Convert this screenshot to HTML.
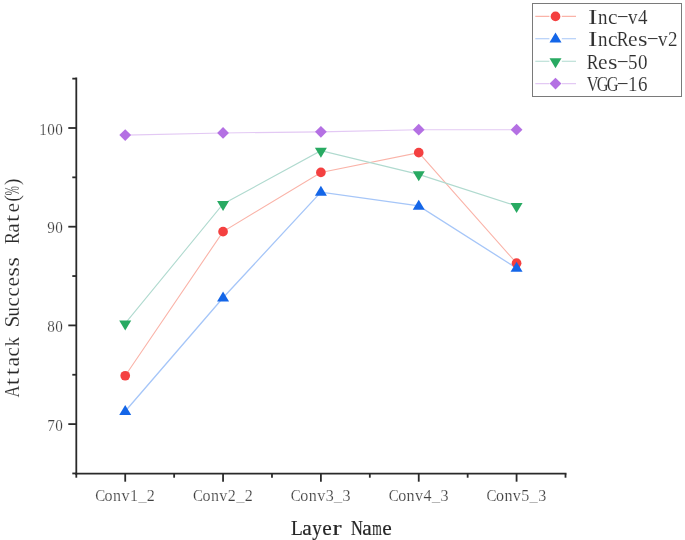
<!DOCTYPE html>
<html><head><meta charset="utf-8"><title>Attack Success Rate by Layer</title>
<style>
html,body{margin:0;padding:0;background:#fff;}
body{width:685px;height:540px;overflow:hidden;font-family:"Liberation Serif",serif;}
svg{display:block;will-change:transform;}
text{-webkit-font-smoothing:antialiased;}
</style></head><body>
<svg width="685" height="540" viewBox="0 0 685 540" font-family="'Liberation Serif', serif">
<rect width="685" height="540" fill="#fff"/>
<g stroke="#2a2a2a" stroke-width="1.8" fill="none" stroke-linecap="butt">
<path d="M76.30 77.50 V474.70"/>
<path d="M75.30 473.70 H566.50"/>
<path d="M68.30 424.10 H76.30"/>
<path d="M68.30 325.40 H76.30"/>
<path d="M68.30 226.70 H76.30"/>
<path d="M68.30 128.00 H76.30"/>
<path d="M72.30 473.45 H76.30"/>
<path d="M72.30 374.75 H76.30"/>
<path d="M72.30 276.05 H76.30"/>
<path d="M72.30 177.35 H76.30"/>
<path d="M72.30 78.65 H76.30"/>
<path d="M125.22 473.70 V481.70"/>
<path d="M223.06 473.70 V481.70"/>
<path d="M320.90 473.70 V481.70"/>
<path d="M418.74 473.70 V481.70"/>
<path d="M516.58 473.70 V481.70"/>
<path d="M76.30 473.70 V477.70"/>
<path d="M174.14 473.70 V477.70"/>
<path d="M271.98 473.70 V477.70"/>
<path d="M369.82 473.70 V477.70"/>
<path d="M467.66 473.70 V477.70"/>
<path d="M565.50 473.70 V477.70"/>
</g>
<text x="51.10" y="430.70" font-size="16.5" text-anchor="middle" fill="#404040" stroke="#fff" stroke-width="0.18" textLength="7.60" lengthAdjust="spacingAndGlyphs">7</text>
<text x="59.10" y="430.70" font-size="16.5" text-anchor="middle" fill="#404040" stroke="#fff" stroke-width="0.18" textLength="7.60" lengthAdjust="spacingAndGlyphs">0</text>
<text x="51.10" y="332.00" font-size="16.5" text-anchor="middle" fill="#404040" stroke="#fff" stroke-width="0.18" textLength="7.60" lengthAdjust="spacingAndGlyphs">8</text>
<text x="59.10" y="332.00" font-size="16.5" text-anchor="middle" fill="#404040" stroke="#fff" stroke-width="0.18" textLength="7.60" lengthAdjust="spacingAndGlyphs">0</text>
<text x="51.10" y="233.30" font-size="16.5" text-anchor="middle" fill="#404040" stroke="#fff" stroke-width="0.18" textLength="7.60" lengthAdjust="spacingAndGlyphs">9</text>
<text x="59.10" y="233.30" font-size="16.5" text-anchor="middle" fill="#404040" stroke="#fff" stroke-width="0.18" textLength="7.60" lengthAdjust="spacingAndGlyphs">0</text>
<text x="43.10" y="134.60" font-size="16.5" text-anchor="middle" fill="#404040" stroke="#fff" stroke-width="0.18" textLength="7.60" lengthAdjust="spacingAndGlyphs">1</text>
<text x="51.10" y="134.60" font-size="16.5" text-anchor="middle" fill="#404040" stroke="#fff" stroke-width="0.18" textLength="7.60" lengthAdjust="spacingAndGlyphs">0</text>
<text x="59.10" y="134.60" font-size="16.5" text-anchor="middle" fill="#404040" stroke="#fff" stroke-width="0.18" textLength="7.60" lengthAdjust="spacingAndGlyphs">0</text>
<text x="100.17" y="500.60" font-size="17" text-anchor="middle" fill="#404040" stroke="#fff" stroke-width="0.18" textLength="9.97" lengthAdjust="spacingAndGlyphs">C</text>
<text x="108.62" y="500.60" font-size="17" text-anchor="middle" fill="#404040" stroke="#fff" stroke-width="0.18" textLength="8.03" lengthAdjust="spacingAndGlyphs">o</text>
<text x="117.07" y="500.60" font-size="17" text-anchor="middle" fill="#404040" stroke="#fff" stroke-width="0.18" textLength="8.03" lengthAdjust="spacingAndGlyphs">n</text>
<text x="125.52" y="500.60" font-size="17" text-anchor="middle" fill="#404040" stroke="#fff" stroke-width="0.18" textLength="8.03" lengthAdjust="spacingAndGlyphs">v</text>
<text x="133.97" y="500.60" font-size="17" text-anchor="middle" fill="#404040" stroke="#fff" stroke-width="0.18" textLength="8.03" lengthAdjust="spacingAndGlyphs">1</text>
<text x="142.42" y="500.60" font-size="17" text-anchor="middle" fill="#404040" stroke="#fff" stroke-width="0.18" textLength="8.03" lengthAdjust="spacingAndGlyphs">_</text>
<text x="150.87" y="500.60" font-size="17" text-anchor="middle" fill="#404040" stroke="#fff" stroke-width="0.18" textLength="8.03" lengthAdjust="spacingAndGlyphs">2</text>
<text x="198.01" y="500.60" font-size="17" text-anchor="middle" fill="#404040" stroke="#fff" stroke-width="0.18" textLength="9.97" lengthAdjust="spacingAndGlyphs">C</text>
<text x="206.46" y="500.60" font-size="17" text-anchor="middle" fill="#404040" stroke="#fff" stroke-width="0.18" textLength="8.03" lengthAdjust="spacingAndGlyphs">o</text>
<text x="214.91" y="500.60" font-size="17" text-anchor="middle" fill="#404040" stroke="#fff" stroke-width="0.18" textLength="8.03" lengthAdjust="spacingAndGlyphs">n</text>
<text x="223.36" y="500.60" font-size="17" text-anchor="middle" fill="#404040" stroke="#fff" stroke-width="0.18" textLength="8.03" lengthAdjust="spacingAndGlyphs">v</text>
<text x="231.81" y="500.60" font-size="17" text-anchor="middle" fill="#404040" stroke="#fff" stroke-width="0.18" textLength="8.03" lengthAdjust="spacingAndGlyphs">2</text>
<text x="240.26" y="500.60" font-size="17" text-anchor="middle" fill="#404040" stroke="#fff" stroke-width="0.18" textLength="8.03" lengthAdjust="spacingAndGlyphs">_</text>
<text x="248.71" y="500.60" font-size="17" text-anchor="middle" fill="#404040" stroke="#fff" stroke-width="0.18" textLength="8.03" lengthAdjust="spacingAndGlyphs">2</text>
<text x="295.85" y="500.60" font-size="17" text-anchor="middle" fill="#404040" stroke="#fff" stroke-width="0.18" textLength="9.97" lengthAdjust="spacingAndGlyphs">C</text>
<text x="304.30" y="500.60" font-size="17" text-anchor="middle" fill="#404040" stroke="#fff" stroke-width="0.18" textLength="8.03" lengthAdjust="spacingAndGlyphs">o</text>
<text x="312.75" y="500.60" font-size="17" text-anchor="middle" fill="#404040" stroke="#fff" stroke-width="0.18" textLength="8.03" lengthAdjust="spacingAndGlyphs">n</text>
<text x="321.20" y="500.60" font-size="17" text-anchor="middle" fill="#404040" stroke="#fff" stroke-width="0.18" textLength="8.03" lengthAdjust="spacingAndGlyphs">v</text>
<text x="329.65" y="500.60" font-size="17" text-anchor="middle" fill="#404040" stroke="#fff" stroke-width="0.18" textLength="8.03" lengthAdjust="spacingAndGlyphs">3</text>
<text x="338.10" y="500.60" font-size="17" text-anchor="middle" fill="#404040" stroke="#fff" stroke-width="0.18" textLength="8.03" lengthAdjust="spacingAndGlyphs">_</text>
<text x="346.55" y="500.60" font-size="17" text-anchor="middle" fill="#404040" stroke="#fff" stroke-width="0.18" textLength="8.03" lengthAdjust="spacingAndGlyphs">3</text>
<text x="393.69" y="500.60" font-size="17" text-anchor="middle" fill="#404040" stroke="#fff" stroke-width="0.18" textLength="9.97" lengthAdjust="spacingAndGlyphs">C</text>
<text x="402.14" y="500.60" font-size="17" text-anchor="middle" fill="#404040" stroke="#fff" stroke-width="0.18" textLength="8.03" lengthAdjust="spacingAndGlyphs">o</text>
<text x="410.59" y="500.60" font-size="17" text-anchor="middle" fill="#404040" stroke="#fff" stroke-width="0.18" textLength="8.03" lengthAdjust="spacingAndGlyphs">n</text>
<text x="419.04" y="500.60" font-size="17" text-anchor="middle" fill="#404040" stroke="#fff" stroke-width="0.18" textLength="8.03" lengthAdjust="spacingAndGlyphs">v</text>
<text x="427.49" y="500.60" font-size="17" text-anchor="middle" fill="#404040" stroke="#fff" stroke-width="0.18" textLength="8.03" lengthAdjust="spacingAndGlyphs">4</text>
<text x="435.94" y="500.60" font-size="17" text-anchor="middle" fill="#404040" stroke="#fff" stroke-width="0.18" textLength="8.03" lengthAdjust="spacingAndGlyphs">_</text>
<text x="444.39" y="500.60" font-size="17" text-anchor="middle" fill="#404040" stroke="#fff" stroke-width="0.18" textLength="8.03" lengthAdjust="spacingAndGlyphs">3</text>
<text x="491.53" y="500.60" font-size="17" text-anchor="middle" fill="#404040" stroke="#fff" stroke-width="0.18" textLength="9.97" lengthAdjust="spacingAndGlyphs">C</text>
<text x="499.98" y="500.60" font-size="17" text-anchor="middle" fill="#404040" stroke="#fff" stroke-width="0.18" textLength="8.03" lengthAdjust="spacingAndGlyphs">o</text>
<text x="508.43" y="500.60" font-size="17" text-anchor="middle" fill="#404040" stroke="#fff" stroke-width="0.18" textLength="8.03" lengthAdjust="spacingAndGlyphs">n</text>
<text x="516.88" y="500.60" font-size="17" text-anchor="middle" fill="#404040" stroke="#fff" stroke-width="0.18" textLength="8.03" lengthAdjust="spacingAndGlyphs">v</text>
<text x="525.33" y="500.60" font-size="17" text-anchor="middle" fill="#404040" stroke="#fff" stroke-width="0.18" textLength="8.03" lengthAdjust="spacingAndGlyphs">5</text>
<text x="533.78" y="500.60" font-size="17" text-anchor="middle" fill="#404040" stroke="#fff" stroke-width="0.18" textLength="8.03" lengthAdjust="spacingAndGlyphs">_</text>
<text x="542.23" y="500.60" font-size="17" text-anchor="middle" fill="#404040" stroke="#fff" stroke-width="0.18" textLength="8.03" lengthAdjust="spacingAndGlyphs">3</text>
<text x="297.00" y="534.80" font-size="21" text-anchor="middle" fill="#262626" stroke="#262626" stroke-width="0.2" textLength="11.80" lengthAdjust="spacingAndGlyphs">L</text>
<text x="307.00" y="534.80" font-size="21" text-anchor="middle" fill="#262626" stroke="#262626" stroke-width="0.2" textLength="9.50" lengthAdjust="spacingAndGlyphs">a</text>
<text x="317.00" y="534.80" font-size="21" text-anchor="middle" fill="#262626" stroke="#262626" stroke-width="0.2" textLength="9.50" lengthAdjust="spacingAndGlyphs">y</text>
<text x="327.00" y="534.80" font-size="21" text-anchor="middle" fill="#262626" stroke="#262626" stroke-width="0.2" textLength="9.50" lengthAdjust="spacingAndGlyphs">e</text>
<text x="337.00" y="534.80" font-size="21" text-anchor="middle" fill="#262626" stroke="#262626" stroke-width="0.2" textLength="9.09" lengthAdjust="spacingAndGlyphs">r</text>
<text x="357.00" y="534.80" font-size="21" text-anchor="middle" fill="#262626" stroke="#262626" stroke-width="0.2" textLength="11.80" lengthAdjust="spacingAndGlyphs">N</text>
<text x="367.00" y="534.80" font-size="21" text-anchor="middle" fill="#262626" stroke="#262626" stroke-width="0.2" textLength="9.50" lengthAdjust="spacingAndGlyphs">a</text>
<text x="377.00" y="534.80" font-size="21" text-anchor="middle" fill="#262626" stroke="#262626" stroke-width="0.2" textLength="9.50" lengthAdjust="spacingAndGlyphs">m</text>
<text x="387.00" y="534.80" font-size="21" text-anchor="middle" fill="#262626" stroke="#262626" stroke-width="0.2" textLength="9.50" lengthAdjust="spacingAndGlyphs">e</text>
<g transform="translate(19.3 396.7) rotate(-90)">
<text x="5.00" y="0.00" font-size="21" text-anchor="middle" fill="#2a2a2a" stroke="#fff" stroke-width="0.15" textLength="11.80" lengthAdjust="spacingAndGlyphs">A</text>
<text x="15.00" y="0.00" font-size="21" text-anchor="middle" fill="#2a2a2a" stroke="#fff" stroke-width="0.15" textLength="7.58" lengthAdjust="spacingAndGlyphs">t</text>
<text x="25.00" y="0.00" font-size="21" text-anchor="middle" fill="#2a2a2a" stroke="#fff" stroke-width="0.15" textLength="7.58" lengthAdjust="spacingAndGlyphs">t</text>
<text x="35.00" y="0.00" font-size="21" text-anchor="middle" fill="#2a2a2a" stroke="#fff" stroke-width="0.15" textLength="9.50" lengthAdjust="spacingAndGlyphs">a</text>
<text x="45.00" y="0.00" font-size="21" text-anchor="middle" fill="#2a2a2a" stroke="#fff" stroke-width="0.15" textLength="9.50" lengthAdjust="spacingAndGlyphs">c</text>
<text x="55.00" y="0.00" font-size="21" text-anchor="middle" fill="#2a2a2a" stroke="#fff" stroke-width="0.15" textLength="9.50" lengthAdjust="spacingAndGlyphs">k</text>
<text x="75.00" y="0.00" font-size="21" text-anchor="middle" fill="#2a2a2a" stroke="#fff" stroke-width="0.15" textLength="11.80" lengthAdjust="spacingAndGlyphs">S</text>
<text x="85.00" y="0.00" font-size="21" text-anchor="middle" fill="#2a2a2a" stroke="#fff" stroke-width="0.15" textLength="9.50" lengthAdjust="spacingAndGlyphs">u</text>
<text x="95.00" y="0.00" font-size="21" text-anchor="middle" fill="#2a2a2a" stroke="#fff" stroke-width="0.15" textLength="9.50" lengthAdjust="spacingAndGlyphs">c</text>
<text x="105.00" y="0.00" font-size="21" text-anchor="middle" fill="#2a2a2a" stroke="#fff" stroke-width="0.15" textLength="9.50" lengthAdjust="spacingAndGlyphs">c</text>
<text x="115.00" y="0.00" font-size="21" text-anchor="middle" fill="#2a2a2a" stroke="#fff" stroke-width="0.15" textLength="9.50" lengthAdjust="spacingAndGlyphs">e</text>
<text x="125.00" y="0.00" font-size="21" text-anchor="middle" fill="#2a2a2a" stroke="#fff" stroke-width="0.15" textLength="9.50" lengthAdjust="spacingAndGlyphs">s</text>
<text x="135.00" y="0.00" font-size="21" text-anchor="middle" fill="#2a2a2a" stroke="#fff" stroke-width="0.15" textLength="9.50" lengthAdjust="spacingAndGlyphs">s</text>
<text x="158.50" y="0.00" font-size="21" text-anchor="middle" fill="#2a2a2a" stroke="#fff" stroke-width="0.15" textLength="11.80" lengthAdjust="spacingAndGlyphs">R</text>
<text x="168.70" y="0.00" font-size="21" text-anchor="middle" fill="#2a2a2a" stroke="#fff" stroke-width="0.15" textLength="9.50" lengthAdjust="spacingAndGlyphs">a</text>
<text x="178.30" y="0.00" font-size="21" text-anchor="middle" fill="#2a2a2a" stroke="#fff" stroke-width="0.15" textLength="7.58" lengthAdjust="spacingAndGlyphs">t</text>
<text x="188.90" y="0.00" font-size="21" text-anchor="middle" fill="#2a2a2a" stroke="#fff" stroke-width="0.15" textLength="9.50" lengthAdjust="spacingAndGlyphs">e</text>
<text x="198.20" y="0.00" font-size="21" text-anchor="middle" fill="#2a2a2a" stroke="#fff" stroke-width="0.15" textLength="6.64" lengthAdjust="spacingAndGlyphs">(</text>
<text x="206.00" y="0.00" font-size="21" text-anchor="middle" fill="#2a2a2a" stroke="#fff" stroke-width="0.15" textLength="9.50" lengthAdjust="spacingAndGlyphs">%</text>
<text x="214.70" y="0.00" font-size="21" text-anchor="middle" fill="#2a2a2a" stroke="#fff" stroke-width="0.15" textLength="6.64" lengthAdjust="spacingAndGlyphs">)</text>
</g>
<polyline points="125.22,375.74 223.06,231.63 320.90,172.41 418.74,152.68 516.58,263.22" fill="none" stroke="#fab3a8" stroke-width="1.1"/>
<polyline points="125.22,411.27 223.06,297.76 320.90,192.16 418.74,205.97 516.58,268.15" fill="none" stroke="#a6c6f8" stroke-width="1.3"/>
<polyline points="125.22,323.43 223.06,204.00 320.90,150.70 418.74,174.39 516.58,205.97" fill="none" stroke="#b0dacf" stroke-width="1.1"/>
<polyline points="125.22,135.11 223.06,132.94 320.90,131.85 418.74,129.68 516.58,129.68" fill="none" stroke="#e3c9f4" stroke-width="1.1"/>
<circle cx="125.22" cy="375.74" r="4.85" fill="#f44040"/>
<circle cx="223.06" cy="231.63" r="4.85" fill="#f44040"/>
<circle cx="320.90" cy="172.41" r="4.85" fill="#f44040"/>
<circle cx="418.74" cy="152.68" r="4.85" fill="#f44040"/>
<circle cx="516.58" cy="263.22" r="4.85" fill="#f44040"/>
<polygon points="125.22,404.95 119.22,414.95 131.22,414.95" fill="#1466e8"/>
<polygon points="223.06,291.45 217.06,301.45 229.06,301.45" fill="#1466e8"/>
<polygon points="320.90,185.84 314.90,195.84 326.90,195.84" fill="#1466e8"/>
<polygon points="418.74,199.66 412.74,209.66 424.74,209.66" fill="#1466e8"/>
<polygon points="516.58,261.84 510.58,271.84 522.58,271.84" fill="#1466e8"/>
<polygon points="125.22,330.39 119.22,320.39 131.22,320.39" fill="#28aa62"/>
<polygon points="223.06,210.97 217.06,200.97 229.06,200.97" fill="#28aa62"/>
<polygon points="320.90,157.67 314.90,147.67 326.90,147.67" fill="#28aa62"/>
<polygon points="418.74,181.36 412.74,171.36 424.74,171.36" fill="#28aa62"/>
<polygon points="516.58,212.94 510.58,202.94 522.58,202.94" fill="#28aa62"/>
<polygon points="125.22,129.21 131.12,135.11 125.22,141.01 119.32,135.11" fill="#b470e3"/>
<polygon points="223.06,127.03 228.96,132.94 223.06,138.84 217.16,132.94" fill="#b470e3"/>
<polygon points="320.90,125.95 326.80,131.85 320.90,137.75 315.00,131.85" fill="#b470e3"/>
<polygon points="418.74,123.78 424.64,129.68 418.74,135.58 412.84,129.68" fill="#b470e3"/>
<polygon points="516.58,123.78 522.48,129.68 516.58,135.58 510.68,129.68" fill="#b470e3"/>
<rect x="532.5" y="3.5" width="149" height="93" fill="#fff" stroke="#7a7a7a" stroke-width="1"/>
<path d="M535.3 16.40 H549.4 M561.8 16.40 H576" stroke="#fab3a8" stroke-width="1.1" fill="none"/>
<circle cx="555.50" cy="16.40" r="4.85" fill="#f44040"/>
<text x="592.70" y="23.80" font-size="21" text-anchor="middle" fill="#303030" stroke="#fff" stroke-width="0.1" textLength="9.44" lengthAdjust="spacingAndGlyphs">I</text>
<text x="602.70" y="23.80" font-size="21" text-anchor="middle" fill="#303030" stroke="#fff" stroke-width="0.1" textLength="9.50" lengthAdjust="spacingAndGlyphs">n</text>
<text x="612.70" y="23.80" font-size="21" text-anchor="middle" fill="#303030" stroke="#fff" stroke-width="0.1" textLength="9.50" lengthAdjust="spacingAndGlyphs">c</text>
<text x="622.70" y="22.12" font-size="21" text-anchor="middle" fill="#303030" stroke="#fff" stroke-width="0.1" textLength="9.50" lengthAdjust="spacingAndGlyphs">–</text>
<text x="632.70" y="23.80" font-size="21" text-anchor="middle" fill="#303030" stroke="#fff" stroke-width="0.1" textLength="9.50" lengthAdjust="spacingAndGlyphs">v</text>
<text x="642.70" y="23.80" font-size="21" text-anchor="middle" fill="#303030" stroke="#fff" stroke-width="0.1" textLength="9.50" lengthAdjust="spacingAndGlyphs">4</text>
<path d="M535.3 38.70 H549.4 M561.8 38.70 H576" stroke="#a6c6f8" stroke-width="1.1" fill="none"/>
<polygon points="555.50,32.38 549.50,42.38 561.50,42.38" fill="#1466e8"/>
<text x="592.70" y="46.00" font-size="21" text-anchor="middle" fill="#303030" stroke="#fff" stroke-width="0.1" textLength="9.44" lengthAdjust="spacingAndGlyphs">I</text>
<text x="602.70" y="46.00" font-size="21" text-anchor="middle" fill="#303030" stroke="#fff" stroke-width="0.1" textLength="9.50" lengthAdjust="spacingAndGlyphs">n</text>
<text x="612.70" y="46.00" font-size="21" text-anchor="middle" fill="#303030" stroke="#fff" stroke-width="0.1" textLength="9.50" lengthAdjust="spacingAndGlyphs">c</text>
<text x="622.70" y="46.00" font-size="21" text-anchor="middle" fill="#303030" stroke="#fff" stroke-width="0.1" textLength="11.80" lengthAdjust="spacingAndGlyphs">R</text>
<text x="632.70" y="46.00" font-size="21" text-anchor="middle" fill="#303030" stroke="#fff" stroke-width="0.1" textLength="9.50" lengthAdjust="spacingAndGlyphs">e</text>
<text x="642.70" y="46.00" font-size="21" text-anchor="middle" fill="#303030" stroke="#fff" stroke-width="0.1" textLength="9.50" lengthAdjust="spacingAndGlyphs">s</text>
<text x="652.70" y="44.32" font-size="21" text-anchor="middle" fill="#303030" stroke="#fff" stroke-width="0.1" textLength="9.50" lengthAdjust="spacingAndGlyphs">–</text>
<text x="662.70" y="46.00" font-size="21" text-anchor="middle" fill="#303030" stroke="#fff" stroke-width="0.1" textLength="9.50" lengthAdjust="spacingAndGlyphs">v</text>
<text x="672.70" y="46.00" font-size="21" text-anchor="middle" fill="#303030" stroke="#fff" stroke-width="0.1" textLength="9.50" lengthAdjust="spacingAndGlyphs">2</text>
<path d="M535.3 61.30 H549.4 M561.8 61.30 H576" stroke="#b0dacf" stroke-width="1.1" fill="none"/>
<polygon points="555.50,68.27 549.50,58.27 561.50,58.27" fill="#28aa62"/>
<text x="592.70" y="68.50" font-size="21" text-anchor="middle" fill="#303030" stroke="#fff" stroke-width="0.1" textLength="11.80" lengthAdjust="spacingAndGlyphs">R</text>
<text x="602.70" y="68.50" font-size="21" text-anchor="middle" fill="#303030" stroke="#fff" stroke-width="0.1" textLength="9.50" lengthAdjust="spacingAndGlyphs">e</text>
<text x="612.70" y="68.50" font-size="21" text-anchor="middle" fill="#303030" stroke="#fff" stroke-width="0.1" textLength="9.50" lengthAdjust="spacingAndGlyphs">s</text>
<text x="622.70" y="66.82" font-size="21" text-anchor="middle" fill="#303030" stroke="#fff" stroke-width="0.1" textLength="9.50" lengthAdjust="spacingAndGlyphs">–</text>
<text x="632.70" y="68.50" font-size="21" text-anchor="middle" fill="#303030" stroke="#fff" stroke-width="0.1" textLength="9.50" lengthAdjust="spacingAndGlyphs">5</text>
<text x="642.70" y="68.50" font-size="21" text-anchor="middle" fill="#303030" stroke="#fff" stroke-width="0.1" textLength="9.50" lengthAdjust="spacingAndGlyphs">0</text>
<path d="M535.3 83.60 H549.4 M561.8 83.60 H576" stroke="#e3c9f4" stroke-width="1.1" fill="none"/>
<polygon points="555.50,77.70 561.40,83.60 555.50,89.50 549.60,83.60" fill="#b470e3"/>
<text x="592.70" y="90.70" font-size="21" text-anchor="middle" fill="#303030" stroke="#fff" stroke-width="0.1" textLength="11.80" lengthAdjust="spacingAndGlyphs">V</text>
<text x="602.70" y="90.70" font-size="21" text-anchor="middle" fill="#303030" stroke="#fff" stroke-width="0.1" textLength="11.80" lengthAdjust="spacingAndGlyphs">G</text>
<text x="612.70" y="90.70" font-size="21" text-anchor="middle" fill="#303030" stroke="#fff" stroke-width="0.1" textLength="11.80" lengthAdjust="spacingAndGlyphs">G</text>
<text x="622.70" y="89.02" font-size="21" text-anchor="middle" fill="#303030" stroke="#fff" stroke-width="0.1" textLength="9.50" lengthAdjust="spacingAndGlyphs">–</text>
<text x="632.70" y="90.70" font-size="21" text-anchor="middle" fill="#303030" stroke="#fff" stroke-width="0.1" textLength="9.50" lengthAdjust="spacingAndGlyphs">1</text>
<text x="642.70" y="90.70" font-size="21" text-anchor="middle" fill="#303030" stroke="#fff" stroke-width="0.1" textLength="9.50" lengthAdjust="spacingAndGlyphs">6</text>
</svg>
</body></html>
